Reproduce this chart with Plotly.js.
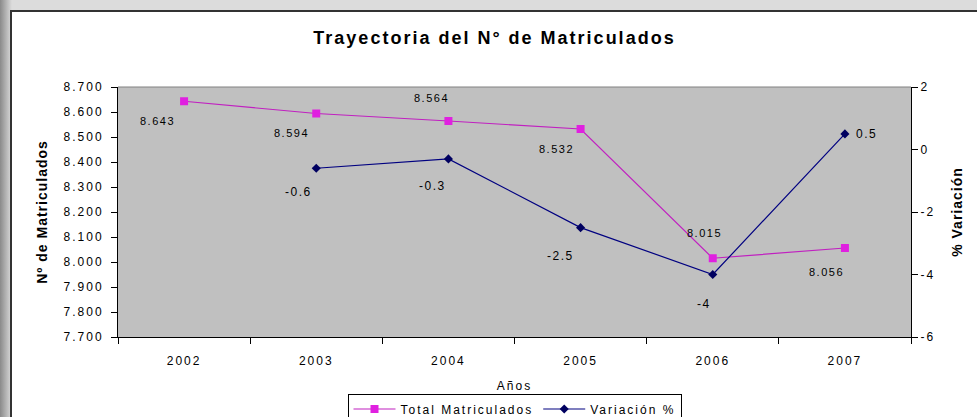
<!DOCTYPE html>
<html>
<head>
<meta charset="utf-8">
<script src="https://cdn.plot.ly/plotly-3.0.1.min.js"></script>
<style>
html,body{margin:0;padding:0;width:977px;height:417px;overflow:hidden;}
body{background:linear-gradient(to right,#8a8a8a 0px,#c8c8c8 9px,#dcdcdc 12px);}
#frame{position:absolute;left:10px;top:10px;width:967px;height:407px;background:#fff;border-top:2px solid #333;border-left:2px solid #333;}
#chart{position:absolute;left:0;top:0;width:965px;height:405px;}
.gtitle{letter-spacing:2px;}
.xtick text,.ytick text,.y2tick text{letter-spacing:2px;}
.legendtext{letter-spacing:2px;}
.annotation-text{letter-spacing:1.5px;}
.xtitle{letter-spacing:2px;}
.ytitle,.y2title{letter-spacing:1px;}
</style>
</head>
<body>
<div id="frame"><div id="chart"></div></div>
<script>
// ---- data ----
var years = ["2002","2003","2004","2005","2006","2007"];
var totalMatriculados = [8643, 8594, 8564, 8532, 8015, 8056];
var variacion = [null, -0.6, -0.3, -2.5, -4, 0.5];
var leftTicks = [7700,7800,7900,8000,8100,8200,8300,8400,8500,8600,8700];
var rightTicks = [-6,-4,-2,0,2];

// ---- label placement (pixel offsets from each point: dx right, dy down) ----
var totalLabelDx = [-27,-25,-17,-24,-8,-18];
var totalLabelDy = [20,19,-23,20,-25,24];
var varLabelDx = [0,-18,-16,-20,-9,22];
var varLabelDy = [0,24,27,28,29,0];

function fmtThousands(v){ var s=String(v); return s.slice(0,s.length-3)+"."+s.slice(-3); }

var fnt = "Liberation Sans, Arial, sans-serif";

var tr1 = {
  x: years, y: totalMatriculados, name: "Total Matriculados",
  type: "scatter", mode: "lines+markers",
  line: {color: "#c020c0", width: 1.2},
  marker: {symbol: "square", size: 8, color: "#e020e0"}
};
var tr2 = {
  x: years, y: variacion, name: "Variación %", yaxis: "y2",
  type: "scatter", mode: "lines+markers",
  line: {color: "#000080", width: 1.2},
  marker: {symbol: "diamond", size: 7, color: "#000060"}
};

var annotations = [];
totalMatriculados.forEach(function(v,i){
  annotations.push({x: i, y: v, xref: "x", yref: "y", text: fmtThousands(v), showarrow: false,
    xshift: totalLabelDx[i], yshift: -totalLabelDy[i], font: {family: fnt, size: 11, color: "#000"}});
});
variacion.forEach(function(v,i){
  if (v === null) return;
  annotations.push({x: i, y: v, xref: "x", yref: "y2", text: String(v), showarrow: false,
    xshift: varLabelDx[i], yshift: -varLabelDy[i], font: {family: fnt, size: 12, color: "#000"}});
});

var layout = {
  width: 965, height: 405,
  margin: {l: 106, r: 66, t: 75, b: 80, autoexpand: false},
  paper_bgcolor: "#fff", plot_bgcolor: "#c0c0c0",
  separators: ",.",
  showlegend: true,
  title: {text: "<b>Trayectoria del N° de Matriculados</b>", font: {family: fnt, size: 18, color: "#000"},
    x: 0.5, xanchor: "center", xref: "container", y: 0.936, yanchor: "middle"},
  xaxis: {
    type: "category", tickson: "boundaries", ticks: "outside", ticklen: 6, tickcolor: "#000",
    ticklabelstandoff: 13,
    showline: true, linecolor: "#000", linewidth: 1, showgrid: false, zeroline: false,
    tickfont: {family: fnt, size: 12, color: "#000"},
    title: {text: "Años", font: {family: fnt, size: 12, color: "#000"}, standoff: 14},
    range: [-0.5, 5.5]
  },
  yaxis: {
    range: [7700, 8700], tickvals: leftTicks, tickformat: ",d",
    ticks: "outside", ticklen: 6, tickcolor: "#000", ticklabelstandoff: 5,
    showline: true, linecolor: "#000", linewidth: 1, showgrid: false, zeroline: false,
    tickfont: {family: fnt, size: 12, color: "#000"},
    title: {text: "<b>Nº de Matriculados</b>", font: {family: fnt, size: 14, color: "#000"}, standoff: 12}
  },
  yaxis2: {
    overlaying: "y", side: "right", range: [-6, 2], tickvals: rightTicks,
    ticktext: rightTicks.map(function(v){return String(v);}),
    ticks: "outside", ticklen: 6, tickcolor: "#000",
    showline: true, linecolor: "#000", linewidth: 1, showgrid: false, zeroline: false,
    tickfont: {family: fnt, size: 12, color: "#000"},
    title: {text: "<b>% Variación</b>", font: {family: fnt, size: 14, color: "#000"}, standoff: 18}
  },
  legend: {
    orientation: "h", x: 0.5, xanchor: "center", y: -0.226, yanchor: "top",
    bgcolor: "#fff", bordercolor: "#000", borderwidth: 1, itemwidth: 42,
    font: {family: fnt, size: 12, color: "#000"}, traceorder: "normal"
  },
  annotations: annotations,
  shapes: [{type: "line", xref: "paper", yref: "paper", x0: 0, x1: 1, y0: 1, y1: 1, line: {color: "#808080", width: 1}}]
};
Plotly.newPlot("chart", [tr1, tr2], layout, {displayModeBar: false, staticPlot: true});
</script>
</body>
</html>
